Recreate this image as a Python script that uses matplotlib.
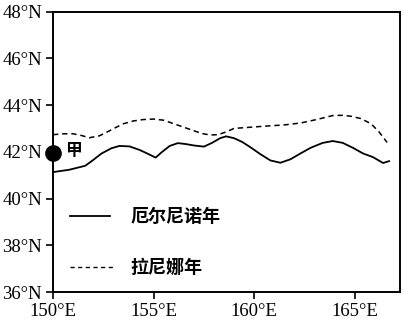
import matplotlib
matplotlib.use("Agg")
from matplotlib import pyplot as plt

# El Nino year boundary (solid)
elnino_lon = [150.0, 150.8, 151.6, 152.0, 152.4, 152.9, 153.3, 153.8, 154.3, 154.7, 155.1,
              155.4, 155.8, 156.2, 156.6, 157.0, 157.5, 157.9, 158.3, 158.6, 159.0,
              159.4, 159.8, 160.3, 160.8, 161.3, 161.8, 162.3, 162.8, 163.4, 163.9,
              164.4, 164.9, 165.4, 165.9, 166.4, 166.7]
elnino_lat = [41.13, 41.23, 41.4, 41.65, 41.92, 42.15, 42.25, 42.23, 42.08, 41.92, 41.75,
              41.98, 42.25, 42.37, 42.33, 42.27, 42.22, 42.38, 42.58, 42.66, 42.58,
              42.42, 42.2, 41.9, 41.63, 41.53, 41.68, 41.93, 42.17, 42.38, 42.46,
              42.38, 42.17, 41.93, 41.77, 41.52, 41.6]

# La Nina year boundary (dashed)
lanina_lon = [150.0, 150.5, 151.0, 151.4, 151.8, 152.3, 152.7, 153.1, 153.5, 154.0, 154.5,
              155.0, 155.5, 156.0, 156.5, 157.0, 157.4, 157.8, 158.2, 158.6, 159.0,
              159.8, 160.6, 161.5, 162.3, 163.1, 163.9, 164.4, 164.8, 165.3,
              165.8, 166.2, 166.6]
lanina_lat = [42.73, 42.77, 42.77, 42.7, 42.6, 42.68, 42.85, 43.03, 43.2, 43.32, 43.38,
              43.4, 43.35, 43.2, 43.05, 42.9, 42.78, 42.72, 42.73, 42.85, 43.0,
              43.05, 43.1, 43.15, 43.23, 43.38, 43.55, 43.56, 43.52, 43.42,
              43.2, 42.85, 42.4]

x_ticks = [150, 155, 160, 165]
x_labels = ["150°E", "155°E", "160°E", "165°E"]
y_ticks = [36, 38, 40, 42, 44, 46, 48]
y_labels = ["36°N", "38°N", "40°N", "42°N", "44°N", "46°N", "48°N"]

point_lon, point_lat, point_name = 150, 41.95, "甲"

cjk = ["Noto Sans CJK SC", "DejaVu Sans"]
serif = "Liberation Serif"

fig = plt.figure(figsize=(4.03, 3.25), dpi=100)
ax = fig.add_axes([0.1315, 0.1015, 0.861, 0.863])

ax.plot(elnino_lon, elnino_lat, "-", color="black", lw=1.3)
ax.plot(lanina_lon, lanina_lat, "--", color="black", lw=1.1, dashes=(3.5, 2.5))

ax.plot([point_lon], [point_lat], "o", color="black", markersize=11, clip_on=False, zorder=5)
ax.text(point_lon + 0.6, point_lat + 0.08, point_name, family=cjk, fontsize=12,
        fontweight="bold", va="center", ha="left")

# legend drawn by hand
ax.plot([150.85, 152.85], [39.25, 39.25], "-", color="black", lw=1.3)
ax.text(153.85, 39.25, "厄尔尼诺年", family=cjk, fontsize=13, fontweight="bold",
        va="center", ha="left")
ax.plot([150.85, 153.1], [37.05, 37.05], "--", color="black", lw=1.0, dashes=(3, 2.5))
ax.text(153.85, 37.05, "拉尼娜年", family=cjk, fontsize=13, fontweight="bold",
        va="center", ha="left")

ax.set_xlim(150, 167.24)
ax.set_ylim(36, 48)
ax.set_xticks(x_ticks)
ax.set_xticklabels(x_labels, family=serif, fontsize=13.5)
ax.set_yticks(y_ticks)
ax.set_yticklabels(y_labels, family=serif, fontsize=13.5)
ax.tick_params(direction="out", length=5, width=1.2, pad=3)
for s in ax.spines.values():
    s.set_linewidth(1.4)

fig.savefig("out.png", dpi=100)
